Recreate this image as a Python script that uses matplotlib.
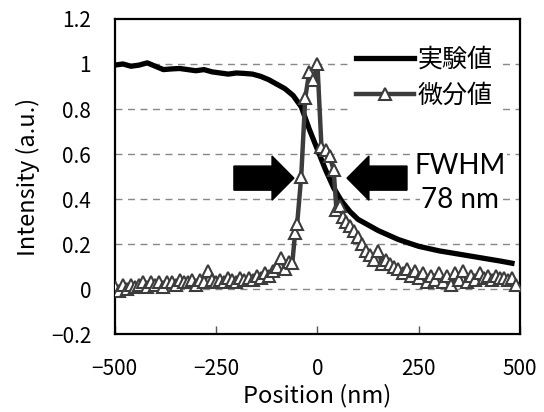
import numpy as np
from matplotlib import pyplot as plt

plt.rcParams['font.family'] = ['Noto Sans CJK JP', 'DejaVu Sans']

# experimental profile (black)
exp_x = [-500, -480, -460, -440, -420, -400, -380, -360, -340, -320, -300,
         -280, -260, -240, -220, -200, -180, -160, -140, -120, -100, -80,
         -60, -40, -20, 0, 20, 40, 60, 80, 100, 125, 150, 175, 200, 250,
         300, 350, 400, 450, 480]
exp_y = [0.995, 1.0, 0.99, 0.995, 1.005, 0.99, 0.975, 0.978, 0.98, 0.975, 0.97,
         0.975, 0.965, 0.96, 0.955, 0.96, 0.958, 0.955, 0.945, 0.93, 0.91, 0.89,
         0.86, 0.81, 0.71, 0.62, 0.53, 0.45, 0.39, 0.345, 0.31, 0.285, 0.26, 0.24, 0.22, 0.19,
         0.17, 0.155, 0.14, 0.125, 0.115]

# derivative profile (gray with triangles)
der_x = [-500, -490, -480, -470, -460, -450, -440, -430, -420, -410, -400,
         -390, -380, -370, -360, -350, -340, -330, -320, -310, -300,
         -290, -280, -270, -260, -250, -240, -230, -220, -210, -200,
         -190, -180, -170, -160, -150, -140, -130, -120, -110, -100,
         -90, -80, -70, -62, -55, -50, -40, -30, -20, -10, 0,
         10, 20, 30, 40, 47, 55, 63, 70, 80, 90, 100,
         110, 120, 130, 140, 150, 160, 170, 180, 190, 200,
         210, 220, 230, 240, 250, 260, 270, 280, 290, 300,
         310, 320, 330, 340, 350, 360, 370, 380, 390, 400,
         410, 420, 430, 440, 450, 460, 470, 480, 490]
der_y = [0.01, -0.01, 0.02, 0.0, 0.02, 0.01, 0.02, 0.03, 0.01, 0.03, 0.02,
         0.03, 0.01, 0.03, 0.03, 0.02, 0.04, 0.03, 0.03, 0.04, 0.02,
         0.04, 0.03, 0.08, 0.04, 0.03, 0.04, 0.03, 0.05, 0.04, 0.03,
         0.05, 0.04, 0.05, 0.04, 0.06, 0.05, 0.07, 0.06, 0.08, 0.10,
         0.14, 0.09, 0.12, 0.115, 0.25, 0.29, 0.50, 0.85, 0.965, 0.93, 1.0,
         0.63, 0.62, 0.59, 0.53, 0.35, 0.37, 0.32, 0.30, 0.28, 0.26, 0.23,
         0.20, 0.17, 0.15, 0.13, 0.17, 0.11, 0.13, 0.11, 0.10, 0.09,
         0.07, 0.09, 0.06, 0.08, 0.05, 0.07, 0.03, 0.06, 0.04, 0.07,
         0.03, 0.06, 0.02, 0.07, 0.04, 0.08, 0.03, 0.06, 0.04, 0.07,
         0.05, 0.06, 0.04, 0.06, 0.05, 0.05, 0.04, 0.05, 0.02]

x_ticks = [-500, -250, 0, 250, 500]
y_ticks = [-0.2, 0, 0.2, 0.4, 0.6, 0.8, 1.0, 1.2]
y_tick_labels = ['−0.2', '0', '0.2', '0.4', '0.6', '0.8', '1', '1.2']
x_tick_labels = ['−500', '−250', '0', '250', '500']

fig = plt.figure(figsize=(5.44, 4.12), dpi=100)
ax = fig.add_axes([0.211, 0.189, 0.745, 0.765])

# dashed horizontal grid
for gy in [0, 0.2, 0.4, 0.6, 0.8, 1.0]:
    ax.axhline(gy, color='#888888', lw=1.0, ls=(0, (5, 4)), zorder=1)

ax.plot(exp_x, exp_y, color='black', lw=3.8, label='実験値', zorder=3,
        solid_joinstyle='round')
ax.plot(der_x, der_y, color='#3c3c3c', lw=3.2, marker='^', markersize=8.5,
        markerfacecolor='white', markeredgecolor='#3c3c3c', markeredgewidth=1.5,
        label='微分値', zorder=4)

# FWHM arrows
ax.arrow(-206, 0.493, 148, 0, width=0.107, head_width=0.196, head_length=54,
         length_includes_head=True, color='black', zorder=5)
ax.arrow(221, 0.493, -148, 0, width=0.107, head_width=0.196, head_length=54,
         length_includes_head=True, color='black', zorder=5)
ax.text(352, 0.545, 'FWHM', fontsize=20, family=['Lato', 'DejaVu Sans'],
        ha='center', va='center', zorder=6,
        bbox=dict(facecolor='white', edgecolor='none', pad=0.5))
ax.text(352, 0.395, '78 nm', fontsize=20, family=['Lato', 'DejaVu Sans'],
        ha='center', va='center', zorder=6,
        bbox=dict(facecolor='white', edgecolor='none', pad=0.5))

ax.set_xlim(-500, 500)
ax.set_ylim(-0.2, 1.2)
ax.set_xticks(x_ticks)
ax.set_xticklabels(x_tick_labels, fontsize=15)
ax.set_yticks(y_ticks)
ax.set_yticklabels(y_tick_labels, fontsize=15)
ax.tick_params(axis='x', direction='in', length=6, width=1, color='#555555', pad=17)
ax.tick_params(axis='y', length=0, pad=17)
ax.set_xlabel('Position (nm)', fontsize=17, labelpad=3)
ax.set_ylabel('Intensity (a.u.)', fontsize=17, labelpad=8)
for s in ax.spines.values():
    s.set_linewidth(1.6)

leg = ax.legend(loc='upper right', fontsize=18, handlelength=2.3, numpoints=1,
                frameon=True, facecolor='white', edgecolor='none', framealpha=1,
                borderpad=0.2, labelspacing=0.4, handletextpad=0.15,
                borderaxespad=0.9, fancybox=False)
leg.set_zorder(10)

plt.savefig('out.png', dpi=100)
